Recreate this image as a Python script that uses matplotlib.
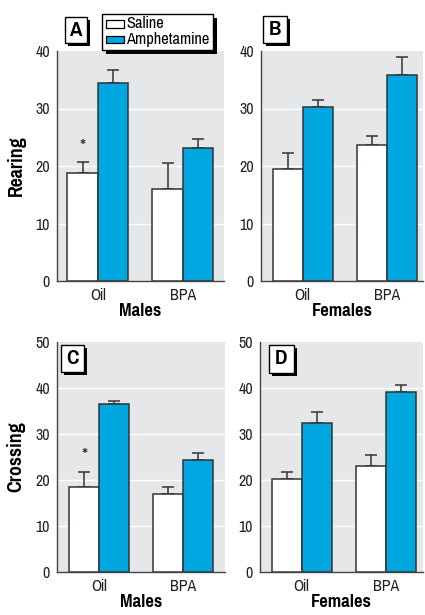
import matplotlib
matplotlib.use("Agg")
import matplotlib.pyplot as plt
from matplotlib import font_manager
from matplotlib.patches import Rectangle

# Prefer a narrow sans family that ships both regular and bold faces
_narrow_candidates = ['Liberation Sans Narrow', 'Pragati Narrow', 'Archivo Narrow',
                      'Roboto Condensed', 'PT Sans Narrow',
                      'IBM Plex Sans Condensed', 'Fira Sans Condensed',
                      'Encode Sans Condensed', 'Barlow Condensed',
                      'Saira SemiCondensed']
_faces = {}
for f in font_manager.fontManager.ttflist:
    _faces.setdefault(f.name, set()).add((f.weight, f.style))
FONT = 'DejaVu Sans'
for name in _narrow_candidates:
    ws = {w for w, s in _faces.get(name, set()) if s == 'normal'}
    if any(w in (400, 'normal', 'regular') for w in ws) and any(
            w in (700, 'bold') for w in ws):
        FONT = name
        break
plt.rcParams['font.family'] = [FONT, 'DejaVu Sans']

W, H = 425, 615

groups = ["Oil", "BPA"]
treatments = ["Saline", "Amphetamine"]

# Rearing (mean, SEM) per group
rear_m_saline = [18.8, 16.0]
rear_m_saline_err = [1.95, 4.5]
rear_m_amph = [34.4, 23.1]
rear_m_amph_err = [2.35, 1.6]

rear_f_saline = [19.5, 23.7]
rear_f_saline_err = [2.7, 1.5]
rear_f_amph = [30.3, 35.9]
rear_f_amph_err = [1.2, 3.0]

# Crossing (mean, SEM) per group
cross_m_saline = [18.4, 16.9]
cross_m_saline_err = [3.3, 1.6]
cross_m_amph = [36.5, 24.3]
cross_m_amph_err = [0.7, 1.6]

cross_f_saline = [20.3, 23.1]
cross_f_saline_err = [1.5, 2.4]
cross_f_amph = [32.4, 39.2]
cross_f_amph_err = [2.4, 1.5]

BLUE = "#00a7e1"
BG = "#e6e7e9"
EDGE = "#333333"

fig = plt.figure(figsize=(W / 100, H / 100), dpi=100)


def px_rect(x0, y0, x1, y1):
    return [x0 / W, 1 - y1 / H, (x1 - x0) / W, (y1 - y0) / H]


def fig_box(x0, y0, x1, y1, shadow=3, lw=1.0):
    fig.patches.append(Rectangle((x0 / W + shadow / W, 1 - (y1 + shadow) / H),
                                 (x1 - x0) / W, (y1 - y0) / H,
                                 transform=fig.transFigure, facecolor="black",
                                 edgecolor="none", zorder=5))
    fig.patches.append(Rectangle((x0 / W, 1 - y1 / H),
                                 (x1 - x0) / W, (y1 - y0) / H,
                                 transform=fig.transFigure, facecolor="white",
                                 edgecolor="black", linewidth=lw, zorder=6))


def panel(rect, xlim, ylim, yticks, sal, sal_err, amph, amph_err,
          ylabel=None, xlabel=None, star=None):
    ax = fig.add_axes(px_rect(*rect))
    ax.set_facecolor(BG)
    ax.set_xlim(*xlim)
    ax.set_ylim(*ylim)
    w = 0.357
    xs = list(range(len(groups)))
    ax.bar([x - w / 2 for x in xs], sal, width=w, color="white",
           edgecolor=EDGE, linewidth=1.1, zorder=3)
    ax.bar([x + w / 2 for x in xs], amph, width=w, color=BLUE,
           edgecolor=EDGE, linewidth=1.1, zorder=3)
    ax.errorbar([x - w / 2 for x in xs], sal,
                yerr=[[0] * len(sal), sal_err], fmt="none", ecolor=EDGE,
                elinewidth=1.1, capsize=4.2, capthick=1.1, zorder=2)
    ax.errorbar([x + w / 2 for x in xs], amph,
                yerr=[[0] * len(amph), amph_err], fmt="none", ecolor=EDGE,
                elinewidth=1.1, capsize=4.2, capthick=1.1, zorder=2)
    ax.set_yticks(yticks)
    ax.set_xticks(xs)
    ax.set_xticklabels(groups)
    ax.tick_params(length=0, labelsize=12.5, colors="#222222", pad=5)
    ax.tick_params(axis="x", pad=5)
    for t in yticks[1:-1]:
        ax.axhline(t, color="white", linewidth=1.0, zorder=1)
    for s in ("top", "right"):
        ax.spines[s].set_visible(False)
    for s in ("left", "bottom"):
        ax.spines[s].set_color("#444444")
        ax.spines[s].set_linewidth(1.0)
    if ylabel:
        ax.set_ylabel(ylabel, fontsize=15.5, fontweight="bold", labelpad=7)
    if xlabel:
        ax.set_xlabel(xlabel, fontsize=14.5, fontweight="bold", labelpad=0)
    if star is not None:
        ax.text(-w / 2, star, "*", ha="center", va="center", fontsize=15,
                color="#333333", zorder=4)
    return ax


panel((57, 51, 224, 281), (-0.479, 1.486), (0, 40), [0, 10, 20, 30, 40],
      rear_m_saline, rear_m_saline_err, rear_m_amph, rear_m_amph_err,
      ylabel="Rearing", xlabel="Males", star=23.3)
panel((261, 51, 423, 281), (-0.496, 1.432), (0, 40), [0, 10, 20, 30, 40],
      rear_f_saline, rear_f_saline_err, rear_f_amph, rear_f_amph_err,
      xlabel="Females")
panel((57, 342, 225, 572), (-0.504, 1.496), (0, 50), [0, 10, 20, 30, 40, 50],
      cross_m_saline, cross_m_saline_err, cross_m_amph, cross_m_amph_err,
      ylabel="Crossing", xlabel="Males", star=25.3)
panel((260, 342, 423, 572), (-0.496, 1.444), (0, 50), [0, 10, 20, 30, 40, 50],
      cross_f_saline, cross_f_saline_err, cross_f_amph, cross_f_amph_err,
      xlabel="Females")

# Panel letters in shadowed boxes
letters = [("A", (65, 17, 87, 43)), ("B", (263, 16, 287, 43)),
           ("C", (61, 345, 84, 372)), ("D", (269, 345, 294, 373))]
for letter, (x0, y0, x1, y1) in letters:
    fig_box(x0, y0, x1, y1)
    fig.text((x0 + x1) / 2 / W, 1 - (y0 + y1) / 2 / H, letter,
             ha="center", va="center", fontsize=16.5, fontweight="bold",
             zorder=7)

# Legend box
fig_box(102, 14, 213, 50, shadow=4)
legend_rows = [(treatments[0], "white", 20, 27.5), (treatments[1], BLUE, 36, 43)]
for label, color, y0, y1 in legend_rows:
    fig.patches.append(Rectangle((106 / W, 1 - y1 / H), 17.5 / W, (y1 - y0) / H,
                                 transform=fig.transFigure, facecolor=color,
                                 edgecolor="black", linewidth=0.9, zorder=7))
    fig.text(126.5 / W, 1 - (y0 + y1) / 2 / H, label, ha="left", va="center",
             fontsize=12.8, zorder=7)

fig.savefig("out.png", dpi=100)
